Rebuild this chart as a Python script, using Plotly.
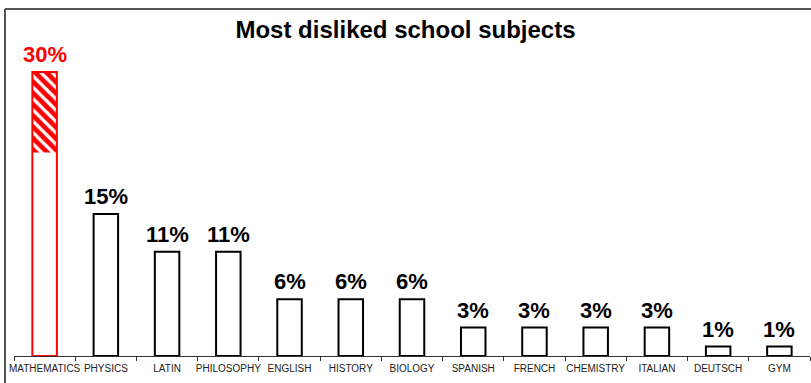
import plotly.graph_objects as go

subjects = ["MATHEMATICS", "PHYSICS", "LATIN", "PHILOSOPHY", "ENGLISH", "HISTORY",
            "BIOLOGY", "SPANISH", "FRENCH", "CHEMISTRY", "ITALIAN", "DEUTSCH", "GYM"]
values = [30, 15, 11, 11, 6, 6, 6, 3, 3, 3, 3, 1, 1]
labels = [f"<b>{v}%</b>" for v in values]
hatch_from = 21.5  # start of hatched portion on the top bar

line_colors = ["red"] + ["black"] * (len(subjects) - 1)
label_colors = ["red"] + ["black"] * (len(subjects) - 1)

fig = go.Figure()

# hatched top part of the first bar
fig.add_trace(go.Bar(
    x=[subjects[0]], y=[values[0] - hatch_from], base=[hatch_from],
    width=0.4,
    marker=dict(color="white", line=dict(width=0),
                pattern=dict(shape="\\", fgcolor="red", fgopacity=1, bgcolor="white",
                             size=8, solidity=0.6)),
    hoverinfo="skip", showlegend=False,
))

# outlined bars
fig.add_trace(go.Bar(
    x=subjects, y=values, width=0.4,
    marker=dict(color="rgba(0,0,0,0)", line=dict(color=line_colors, width=2)),
    showlegend=False,
))

for s, v, t, c in zip(subjects, values, labels, label_colors):
    fig.add_annotation(x=s, y=v, text=t, showarrow=False, yanchor="bottom", yshift=3,
                       font=dict(family="Liberation Sans, Arial, sans-serif", size=22, color=c))

fig.update_layout(
    width=811, height=383,
    margin=dict(l=14, r=1, t=40, b=27, autoexpand=False),
    barmode="overlay",
    plot_bgcolor="white", paper_bgcolor="white",
    title=dict(text="<b>Most disliked school subjects</b>", x=0.5, xanchor="center",
               y=0.922, yanchor="middle",
               font=dict(family="Liberation Sans, Arial, sans-serif", size=24, color="black")),
    font=dict(family="Liberation Sans, Arial, sans-serif"),
    xaxis=dict(
        type="category", range=[-0.5, len(subjects) - 0.5],
        showline=True, linecolor="#333", linewidth=1,
        ticks="outside", tickson="boundaries", ticklen=4, tickcolor="#333",
        tickangle=0, automargin=False, ticklabelstandoff=3,
        tickfont=dict(size=10, color="#222"),
        showgrid=False, zeroline=False,
    ),
    yaxis=dict(range=[0, 33.37], visible=False, showgrid=False, automargin=False),
    shapes=[
        dict(type="line", xref="paper", yref="paper", x0=-0.0113, x1=1.01, y0=1.098, y1=1.098,
             line=dict(color="#555", width=2)),
        dict(type="line", xref="paper", yref="paper", x0=-0.0113, x1=-0.0113, y0=1.098, y1=-0.1,
             line=dict(color="#555", width=2)),
    ],
)

fig.write_html("out.html", config={"displayModeBar": False},
               post_script="document.body.style.margin='0';document.body.style.overflow='hidden';")
